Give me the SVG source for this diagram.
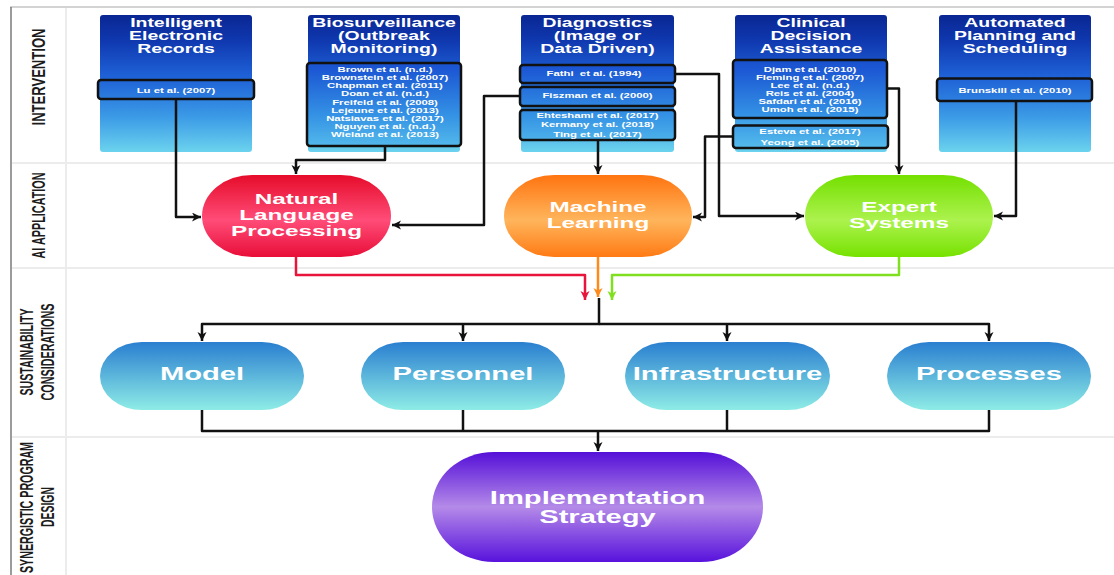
<svg xmlns="http://www.w3.org/2000/svg" width="1114" height="575" viewBox="0 0 1114 575">
<style>
.t{font-family:"Liberation Sans",Arial,sans-serif;font-weight:bold;fill:#fff;text-anchor:middle}
.tt{font-size:12px}
.ct{font-size:7px}
.an{font-size:15px}
.sn{font-size:18px}
.lab{font-family:"Liberation Sans",Arial,sans-serif;font-weight:bold;fill:#1c1c1c;font-size:13px;text-anchor:middle}
.box{fill:url(#gInt)}
.cit{fill:url(#gInner);stroke:#111;stroke-width:2.5}
.con{fill:none;stroke:#111;stroke-width:2.5;stroke-linejoin:round}
.lane{stroke:#ececec;stroke-width:2}
</style>
<defs>
<linearGradient id="gInt" x1="0" y1="0" x2="0" y2="1">
<stop offset="0" stop-color="#0a2793"/><stop offset="0.18" stop-color="#0f37ae"/><stop offset="0.45" stop-color="#1f62d8"/><stop offset="0.75" stop-color="#3c9ce6"/><stop offset="1" stop-color="#6bd3ee"/>
</linearGradient>
<linearGradient id="gInner" gradientUnits="userSpaceOnUse" x1="0" y1="15" x2="0" y2="152">
<stop offset="0" stop-color="#0c30a8"/><stop offset="0.4" stop-color="#1c58d4"/><stop offset="0.72" stop-color="#3390e4"/><stop offset="1" stop-color="#58c0ec"/>
</linearGradient>
<linearGradient id="gNlp" x1="0" y1="0" x2="0" y2="1">
<stop offset="0" stop-color="#e60c2a"/><stop offset="0.55" stop-color="#ff4c78"/><stop offset="1" stop-color="#e80e38"/>
</linearGradient>
<linearGradient id="gMl" x1="0" y1="0" x2="0" y2="1">
<stop offset="0" stop-color="#ff7410"/><stop offset="0.55" stop-color="#ffb55c"/><stop offset="1" stop-color="#ff7a14"/>
</linearGradient>
<linearGradient id="gEs" x1="0" y1="0" x2="0" y2="1">
<stop offset="0" stop-color="#74e000"/><stop offset="0.55" stop-color="#acf24e"/><stop offset="1" stop-color="#76e200"/>
</linearGradient>
<linearGradient id="gSus" x1="0" y1="0" x2="0" y2="1">
<stop offset="0" stop-color="#2a7fd0"/><stop offset="1" stop-color="#8eece6"/>
</linearGradient>
<linearGradient id="gImp" x1="0" y1="0" x2="0" y2="1">
<stop offset="0" stop-color="#5510d8"/><stop offset="0.5" stop-color="#b48ae8"/><stop offset="1" stop-color="#5812dc"/>
</linearGradient>
<marker id="ak" markerUnits="userSpaceOnUse" markerWidth="10" markerHeight="10" refX="9" refY="4.5" orient="auto"><path d="M0,0 L9,4.5 L0,9 L2.5,4.5 z" fill="#111"/></marker>
<marker id="ar" markerUnits="userSpaceOnUse" markerWidth="10" markerHeight="10" refX="9" refY="4.5" orient="auto"><path d="M0,0 L9,4.5 L0,9 L2.5,4.5 z" fill="#e8143c"/></marker>
<marker id="ao" markerUnits="userSpaceOnUse" markerWidth="10" markerHeight="10" refX="9" refY="4.5" orient="auto"><path d="M0,0 L9,4.5 L0,9 L2.5,4.5 z" fill="#ff8a1c"/></marker>
<marker id="ag" markerUnits="userSpaceOnUse" markerWidth="10" markerHeight="10" refX="9" refY="4.5" orient="auto"><path d="M0,0 L9,4.5 L0,9 L2.5,4.5 z" fill="#80e020"/></marker>
</defs>
<rect x="0" y="0" width="1114" height="575" fill="#fff"/>
<g id="frame">
<line x1="10" y1="7" x2="1114" y2="7" stroke="#c4c4c4" stroke-width="1.5"/>
<line x1="11" y1="7" x2="11" y2="575" stroke="#7a7a7a" stroke-width="1.5"/>
<line x1="66" y1="8" x2="66" y2="575" class="lane"/>
<line x1="12" y1="163" x2="1114" y2="163" class="lane"/>
<line x1="12" y1="268" x2="1114" y2="268" class="lane"/>
<line x1="12" y1="437" x2="1114" y2="437" class="lane"/>
<text class="lab" transform="translate(44.5,77) scale(1.4,1) rotate(-90)" textLength="97" lengthAdjust="spacingAndGlyphs">INTERVENTION</text>
<text class="lab" transform="translate(44.5,215.5) scale(1.4,1) rotate(-90)" textLength="86" lengthAdjust="spacingAndGlyphs">AI APPLICATION</text>
<text class="lab" transform="translate(32.5,352) scale(1.4,1) rotate(-90)" textLength="87" lengthAdjust="spacingAndGlyphs">SUSTAINABILITY</text>
<text class="lab" transform="translate(53.5,352) scale(1.4,1) rotate(-90)" textLength="97" lengthAdjust="spacingAndGlyphs">CONSIDERATIONS</text>
<text class="lab" transform="translate(32.5,507.5) scale(1.4,1) rotate(-90)" textLength="131" lengthAdjust="spacingAndGlyphs">SYNERGISTIC PROGRAM</text>
<text class="lab" transform="translate(53.5,507) scale(1.4,1) rotate(-90)" textLength="40" lengthAdjust="spacingAndGlyphs">DESIGN</text>
</g>
<g id="ier">
<rect class="box" x="100" y="15" width="152" height="137" rx="3"/>
<text class="t tt" transform="translate(176,27.3) scale(1.62,1)">Intelligent</text>
<text class="t tt" transform="translate(176,40.3) scale(1.62,1)">Electronic</text>
<text class="t tt" transform="translate(176,53.3) scale(1.62,1)">Records</text>
<rect class="cit" x="98" y="80" width="156" height="19" rx="3"/>
<text class="t ct" transform="translate(176,92.5) scale(1.62,1)">Lu et al. (2007)</text>
</g>
<g id="bio">
<rect class="box" x="308" y="15" width="152" height="137" rx="3"/>
<text class="t tt" transform="translate(384,27.3) scale(1.62,1)">Biosurveillance</text>
<text class="t tt" transform="translate(384,40.3) scale(1.62,1)">(Outbreak</text>
<text class="t tt" transform="translate(384,53.3) scale(1.62,1)">Monitoring)</text>
<rect class="cit" x="307" y="63" width="154" height="83" rx="3"/>
<text class="t ct" transform="translate(385,71.8) scale(1.62,1)">Brown et al. (n.d.)</text>
<text class="t ct" transform="translate(385,80) scale(1.62,1)">Brownstein et al. (2007)</text>
<text class="t ct" transform="translate(385,88.2) scale(1.62,1)">Chapman et al. (2011)</text>
<text class="t ct" transform="translate(385,96.4) scale(1.62,1)">Doan et al. (n.d.)</text>
<text class="t ct" transform="translate(385,104.6) scale(1.62,1)">Freifeld et al. (2008)</text>
<text class="t ct" transform="translate(385,112.8) scale(1.62,1)">Lejeune et al. (2013)</text>
<text class="t ct" transform="translate(385,121) scale(1.62,1)">Natsiavas et al. (2017)</text>
<text class="t ct" transform="translate(385,129.2) scale(1.62,1)">Nguyen et al. (n.d.)</text>
<text class="t ct" transform="translate(385,137.4) scale(1.62,1)">Wieland et al. (2013)</text>
</g>
<g id="diag">
<rect class="box" x="521" y="15" width="153" height="137" rx="3"/>
<text class="t tt" transform="translate(597.5,27.3) scale(1.62,1)">Diagnostics</text>
<text class="t tt" transform="translate(597.5,40.3) scale(1.62,1)">(Image or</text>
<text class="t tt" transform="translate(597.5,53.3) scale(1.62,1)">Data Driven)</text>
<rect class="cit" x="520" y="65" width="155" height="18" rx="3"/>
<text class="t ct" transform="translate(594,75.8) scale(1.62,1)">Fathi&#160; et al. (1994)</text>
<rect class="cit" x="520" y="87" width="155" height="19" rx="3"/>
<text class="t ct" transform="translate(597.5,98.2) scale(1.62,1)">Fiszman et al. (2000)</text>
<rect class="cit" x="520" y="110" width="155" height="30" rx="3"/>
<text class="t ct" transform="translate(597.5,117.5) scale(1.62,1)">Ehteshami et al. (2017)</text>
<text class="t ct" transform="translate(597.5,127) scale(1.62,1)">Kermany et al. (2018)</text>
<text class="t ct" transform="translate(597.5,136.5) scale(1.62,1)">Ting et al. (2017)</text>
</g>
<g id="cda">
<rect class="box" x="735" y="15" width="152" height="137" rx="3"/>
<text class="t tt" transform="translate(811,27.3) scale(1.62,1)">Clinical</text>
<text class="t tt" transform="translate(811,40.3) scale(1.62,1)">Decision</text>
<text class="t tt" transform="translate(811,53.3) scale(1.62,1)">Assistance</text>
<rect class="cit" x="733" y="60" width="154" height="58" rx="3"/>
<text class="t ct" transform="translate(810,71.5) scale(1.62,1)">Djam et al. (2010)</text>
<text class="t ct" transform="translate(810,79.5) scale(1.62,1)">Fleming et al. (2007)</text>
<text class="t ct" transform="translate(810,87.5) scale(1.62,1)">Lee et al. (n.d.)</text>
<text class="t ct" transform="translate(810,95.5) scale(1.62,1)">Reis et al. (2004)</text>
<text class="t ct" transform="translate(810,103.5) scale(1.62,1)">Safdari et al. (2016)</text>
<text class="t ct" transform="translate(810,111.5) scale(1.62,1)">Umoh et al. (2015)</text>
<rect class="cit" x="733" y="125.5" width="155" height="22.5" rx="3"/>
<text class="t ct" transform="translate(810,133.8) scale(1.62,1)">Esteva et al. (2017)</text>
<text class="t ct" transform="translate(810,144.8) scale(1.62,1)">Yeong et al. (2005)</text>
</g>
<g id="aps">
<rect class="box" x="939" y="15" width="152" height="137" rx="3"/>
<text class="t tt" transform="translate(1015,27.3) scale(1.62,1)">Automated</text>
<text class="t tt" transform="translate(1015,40.3) scale(1.62,1)">Planning and</text>
<text class="t tt" transform="translate(1015,53.3) scale(1.62,1)">Scheduling</text>
<rect class="cit" x="937" y="78.5" width="155" height="22.5" rx="3"/>
<text class="t ct" transform="translate(1015,92.5) scale(1.62,1)">Brunskill et al. (2010)</text>
</g>
<g id="nlp">
<rect x="202" y="175" width="189" height="82" rx="50" ry="41" fill="url(#gNlp)"/>
<text class="t an" transform="translate(296.5,204.4) scale(1.62,1)">Natural</text>
<text class="t an" transform="translate(296.5,220.4) scale(1.62,1)">Language</text>
<text class="t an" transform="translate(296.5,236.4) scale(1.62,1)">Processing</text>
</g>
<g id="ml">
<rect x="504" y="175" width="188" height="82" rx="50" ry="41" fill="url(#gMl)"/>
<text class="t an" transform="translate(598,212.2) scale(1.62,1)">Machine</text>
<text class="t an" transform="translate(598,228.2) scale(1.62,1)">Learning</text>
</g>
<g id="es">
<rect x="805" y="175" width="188" height="82" rx="50" ry="41" fill="url(#gEs)"/>
<text class="t an" transform="translate(899,212.2) scale(1.62,1)">Expert</text>
<text class="t an" transform="translate(899,228.2) scale(1.62,1)">Systems</text>
</g>
<g id="model">
<rect x="100" y="342" width="204" height="68" rx="42" ry="34" fill="url(#gSus)"/>
<text class="t sn" transform="translate(202,380.4) scale(1.62,1)">Model</text>
</g>
<g id="personnel">
<rect x="361" y="342" width="204" height="68" rx="42" ry="34" fill="url(#gSus)"/>
<text class="t sn" transform="translate(463,380.4) scale(1.62,1)">Personnel</text>
</g>
<g id="infrastructure">
<rect x="625" y="342" width="205" height="68" rx="42" ry="34" fill="url(#gSus)"/>
<text class="t sn" transform="translate(727.5,380.4) scale(1.62,1)">Infrastructure</text>
</g>
<g id="processes">
<rect x="887" y="342" width="204" height="68" rx="42" ry="34" fill="url(#gSus)"/>
<text class="t sn" transform="translate(989,380.4) scale(1.62,1)">Processes</text>
</g>
<g id="implementation">
<rect x="432" y="452" width="331" height="110" rx="62" ry="55" fill="url(#gImp)"/>
<text class="t sn" transform="translate(597.5,503.5) scale(1.62,1)">Implementation</text>
<text class="t sn" transform="translate(597.5,522.5) scale(1.62,1)">Strategy</text>
</g>
<g id="connectors">
<path class="con" d="M176,99 V217 H201" marker-end="url(#ak)"/>
<path class="con" d="M385,146 V160 H296 V174" marker-end="url(#ak)"/>
<path class="con" d="M520,96 H484 V225 H392" marker-end="url(#ak)"/>
<path class="con" d="M598,140 V174" marker-end="url(#ak)"/>
<path class="con" d="M675,74 H719 V216 H804" marker-end="url(#ak)"/>
<path class="con" d="M733,136.5 H705 V217 H693" marker-end="url(#ak)"/>
<path class="con" d="M887,88.5 H899 V174" marker-end="url(#ak)"/>
<path class="con" d="M1016,101 V216 H994" marker-end="url(#ak)"/>
<path d="M296,257 V275 H585 V300" fill="none" stroke="#e8143c" stroke-width="2.5" stroke-linejoin="round" marker-end="url(#ar)"/>
<path d="M598,257 V297" fill="none" stroke="#ff8a1c" stroke-width="2.5" marker-end="url(#ao)"/>
<path d="M899,257 V275 H612 V300" fill="none" stroke="#80e020" stroke-width="2.5" stroke-linejoin="round" marker-end="url(#ag)"/>
<path class="con" d="M599,298 V324 H202 V341" marker-end="url(#ak)"/>
<path class="con" d="M599,324 H989 V341" marker-end="url(#ak)"/>
<path class="con" d="M463,324 V341" marker-end="url(#ak)"/>
<path class="con" d="M727,324 V341" marker-end="url(#ak)"/>
<path class="con" d="M202,410 V431 H989 V410"/>
<path class="con" d="M463,410 V431"/>
<path class="con" d="M727,410 V431"/>
<path class="con" d="M598,431 V451" marker-end="url(#ak)"/>
</g>
</svg>
